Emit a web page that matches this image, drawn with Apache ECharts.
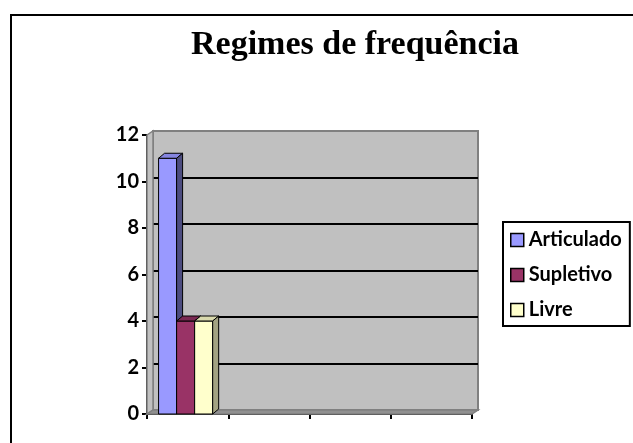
<!DOCTYPE html>
<html>
<head>
<meta charset="utf-8">
<script src="https://cdn.jsdelivr.net/npm/echarts@6/dist/echarts.min.js"></script>
<style>
  html, body { margin: 0; padding: 0; background: #fff; }
  #chart { width: 633px; height: 443px; }
</style>
</head>
<body>
<div id="chart"></div>
<script>
// dados do gráfico
var categorias = ['Cat1', 'Cat2', 'Cat3', 'Cat4']
var seriesNomes = ['Articulado', 'Supletivo', 'Livre']
var articulado = [11, null, null, null]
var supletivo = [4, null, null, null]
var livre = [4, null, null, null]
var yTicks = [0, 2, 4, 6, 8, 10, 12]

// cores: frente, topo, lado
var cores = [
  ['#9999FF', '#8585E0', '#4D4D80'],
  ['#993366', '#7A2952', '#4D1A33'],
  ['#FFFFCC', '#D9D9AD', '#A3A382']
]

// área frontal e profundidade 3D
var frente = { left: 147, top: 135, right: 161, bottom: 29 }
var dx = 6, dy = -4

var chart = echarts.init(document.getElementById('chart'))

function toPairs(arr) {
  var out = []
  arr.forEach(function (v, i) { if (v != null) out.push([i, v]) })
  return out
}

function renderBar(params, api) {
  var idx = api.value(0)
  var val = api.value(1)
  var top = api.coord([idx, val])
  var base = api.coord([idx, 0])
  var bandW = api.size([1, 0])[0]
  var w = bandW * 0.222
  var k = params.seriesIndex
  var x0 = top[0] - 1.5 * w - 2 + k * w
  var x1 = x0 + w
  var y0 = top[1], y1 = base[1]
  var c = cores[k]
  var ddx = 6, ddy = -5
  return {
    type: 'group',
    children: [
      { type: 'rect', shape: { x: x0, y: y0, width: w, height: y1 - y0 },
        style: { fill: c[0], stroke: '#000', lineWidth: 1 } },
      { type: 'polygon', shape: { points: [[x0, y0], [x1, y0], [x1 + ddx, y0 + ddy], [x0 + ddx, y0 + ddy]] },
        style: { fill: c[1], stroke: '#000', lineWidth: 1 } },
      { type: 'polygon', shape: { points: [[x1, y0], [x1 + ddx, y0 + ddy], [x1 + ddx, y1 + ddy], [x1, y1]] },
        style: { fill: c[2], stroke: '#000', lineWidth: 1 } }
    ]
  }
}

var W = 633, H = 443
var fl = frente.left, fr = W - frente.right, ft = frente.top, fb = H - frente.bottom

var option = {
  backgroundColor: '#fff',
  animation: false,
  title: {
    text: 'Regimes de frequência',
    left: 350,
    top: 23,
    textAlign: 'center',
    textStyle: {
      fontFamily: 'Liberation Serif',
      fontWeight: 'bold',
      fontSize: 34,
      color: '#000'
    }
  },
  legend: {
    orient: 'vertical',
    left: 503,
    top: 222,
    data: seriesNomes,
    icon: 'rect',
    itemWidth: 13,
    itemHeight: 13,
    itemGap: 15,
    itemTextGap: 5,
    padding: [8, 8, 6, 7],
    borderColor: '#000',
    borderWidth: 2,
    selectedMode: false,
    itemStyle: { borderColor: '#000', borderWidth: 1.5 },
    textStyle: {
      fontFamily: 'Lato',
      fontWeight: 'bold',
      fontSize: 20,
      lineHeight: 20,
      color: '#000'
    }
  },
  grid: [
    { // parede do fundo
      left: frente.left + dx, right: frente.right - dx,
      top: frente.top + dy, bottom: frente.bottom - dy,
      show: true, backgroundColor: '#C0C0C0', borderColor: '#808080', borderWidth: 2
    },
    { // plano frontal com os eixos
      left: frente.left, right: frente.right,
      top: frente.top, bottom: frente.bottom
    }
  ],
  xAxis: [
    { gridIndex: 0, type: 'category', data: categorias, show: false },
    {
      gridIndex: 1, type: 'category', data: categorias,
      axisLine: { lineStyle: { color: '#000', width: 2 } },
      axisTick: { show: true, length: 5, lineStyle: { color: '#000', width: 2 } },
      axisLabel: { show: false }
    }
  ],
  yAxis: [
    {
      gridIndex: 0, type: 'value', min: 0, max: 12, interval: 2,
      axisLine: { show: false }, axisTick: { show: false }, axisLabel: { show: false },
      splitLine: {
        show: true,
        lineStyle: { color: '#000', width: 2 },
        showMinLine: false,
        showMaxLine: false
      }
    },
    {
      gridIndex: 1, type: 'value', min: 0, max: 12, interval: 2,
      axisLine: { show: true, lineStyle: { color: '#000', width: 2 } },
      axisTick: { show: true, length: 5, lineStyle: { color: '#000', width: 2 } },
      axisLabel: {
        margin: 8,
        color: '#000',
        fontFamily: 'Lato',
        fontWeight: 'bold',
        fontSize: 20,
        formatter: function (v) { return yTicks.indexOf(v) >= 0 ? String(v) : '' }
      },
      splitLine: { show: false }
    }
  ],
  graphic: [
    { // moldura
      type: 'rect', z: 100, silent: true,
      shape: { x: 11, y: 15, width: 700, height: 500 },
      style: { fill: 'none', stroke: '#000', lineWidth: 2 }
    },
    { // parede lateral
      type: 'polygon', z: 1, silent: true,
      shape: { points: [[fl, ft], [fl + dx, ft + dy], [fl + dx, fb + dy], [fl, fb]] },
      style: { fill: '#C0C0C0', stroke: '#808080', lineWidth: 1.5 }
    },
    { // chão
      type: 'polygon', z: 1, silent: true,
      shape: { points: [[fl, fb], [fl + dx, fb + dy], [fr + dx, fb + dy], [fr, fb]] },
      style: { fill: '#909090', stroke: '#808080', lineWidth: 1.5 }
    }
  ],
  series: [
    { name: seriesNomes[0], type: 'custom', xAxisIndex: 1, yAxisIndex: 1, z: 10,
      itemStyle: { color: cores[0][0] }, renderItem: renderBar, data: toPairs(articulado) },
    { name: seriesNomes[1], type: 'custom', xAxisIndex: 1, yAxisIndex: 1, z: 10,
      itemStyle: { color: cores[1][0] }, renderItem: renderBar, data: toPairs(supletivo) },
    { name: seriesNomes[2], type: 'custom', xAxisIndex: 1, yAxisIndex: 1, z: 10,
      itemStyle: { color: cores[2][0] }, renderItem: renderBar, data: toPairs(livre) }
  ]
}

chart.setOption(option)
</script>
</body>
</html>
